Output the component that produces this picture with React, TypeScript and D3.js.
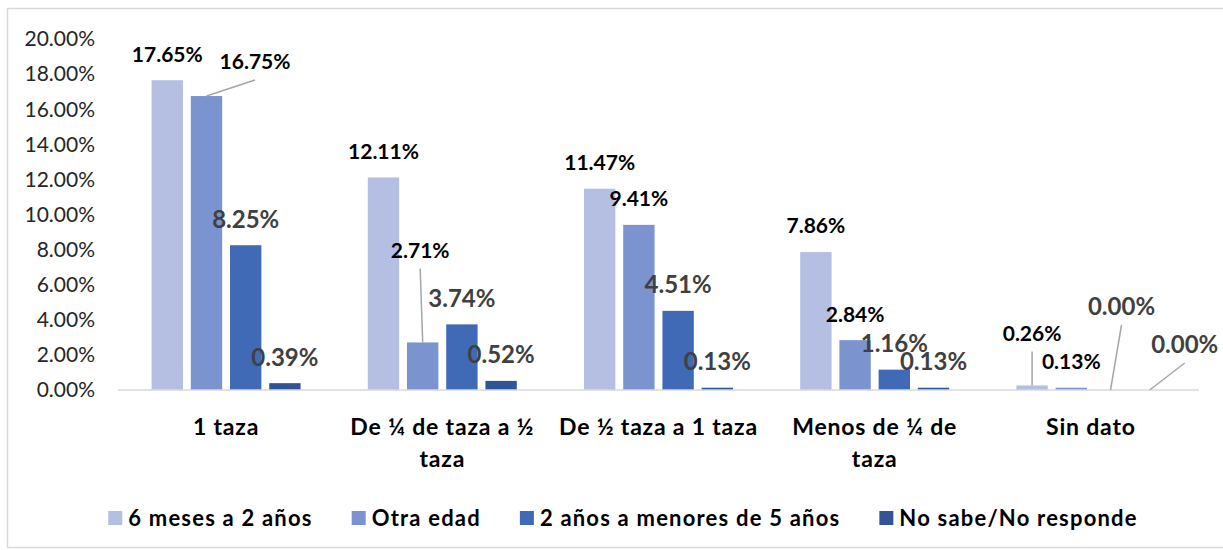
import React, { useRef, useEffect } from "react";
import * as d3 from "d3";

// categories (x axis) – each entry is the list of wrapped lines
const categories = ["1 taza", "De ¼ de taza a ½ taza", "De ½ taza a 1 taza", "Menos de ¼ de taza", "Sin dato"];
const categoryLines = [["1 taza"], ["De ¼ de taza a ½", "taza"], ["De ½ taza a 1 taza"], ["Menos de ¼ de", "taza"], ["Sin dato"]];

const seriesNames = ["6 meses a 2 años", "Otra edad", "2 años a menores de 5 años", "No sabe/No responde"];
const seisMeses = [0.1765, 0.1211, 0.1147, 0.0786, 0.0026];
const otraEdad = [0.1675, 0.0271, 0.0941, 0.0284, 0.0013];
const dosAnios = [0.0825, 0.0374, 0.0451, 0.0116, 0.0];
const noSabe = [0.0039, 0.0052, 0.0013, 0.0013, 0.0];
const seriesValues = [seisMeses, otraEdad, dosAnios, noSabe];

const yTicks = [0, 0.02, 0.04, 0.06, 0.08, 0.1, 0.12, 0.14, 0.16, 0.18, 0.2];

const colors = ["#b4bfe1", "#7b94d0", "#4069b6", "#2f5597"];

// labels moved off their default spot (series index, category index) -> offset in px, with leader line
const labelNudges = {
  "1-0": [48.5, -8],
  "1-1": [-2.5, -66],
  "0-4": [0, -26],
  "2-4": [11, -57],
  "3-4": [35, -19],
};

const W = 1223;
const H = 550;
const FONT = "Lato, 'Open Sans', sans-serif";

const App = () => {
  const svgRef = useRef(null);

  useEffect(() => {
    const svg = d3.select(svgRef.current);
    svg.selectAll("*").remove();

    const plot = { left: 118, right: 1199, top: 39, bottom: 390 };

    // outer frame
    svg
      .append("rect")
      .attr("x", 7.5)
      .attr("y", 8.5)
      .attr("width", 1240)
      .attr("height", 539)
      .attr("fill", "#fff")
      .attr("stroke", "#d9d9d9")
      .attr("stroke-width", 1.5);

    const x0 = d3.scaleBand().domain(categories).range([plot.left, plot.right]).padding(0);
    const x1 = d3
      .scaleBand()
      .domain(seriesNames)
      .range([0, x0.bandwidth()])
      .paddingInner(0.2)
      .paddingOuter(0.857);
    const y = d3.scaleLinear().domain([0, 0.2]).range([plot.bottom, plot.top]);

    // y tick labels (no axis line)
    svg
      .append("g")
      .selectAll("text")
      .data(yTicks)
      .enter()
      .append("text")
      .attr("x", 95)
      .attr("y", (d) => y(d))
      .attr("dy", "0.35em")
      .attr("text-anchor", "end")
      .attr("font-family", FONT)
      .attr("font-size", 21)
      .attr("fill", "#262626")
      .text((d) => d3.format(".2%")(d));

    // bars
    const flat = [];
    seriesValues.forEach((vals, si) =>
      vals.forEach((v, ci) => flat.push({ si, ci, v }))
    );

    const barX = (d) => x0(categories[d.ci]) + x1(seriesNames[d.si]);

    svg
      .append("g")
      .selectAll("rect")
      .data(flat)
      .enter()
      .append("rect")
      .attr("x", barX)
      .attr("y", (d) => y(d.v))
      .attr("width", x1.bandwidth())
      .attr("height", (d) => y(0) - y(d.v))
      .attr("fill", (d) => colors[d.si]);

    // baseline
    svg
      .append("line")
      .attr("x1", plot.left)
      .attr("x2", plot.right)
      .attr("y1", y(0))
      .attr("y2", y(0))
      .attr("stroke", "#d9d9d9")
      .attr("stroke-width", 1.5);

    // data labels
    const labelPos = (d) => {
      const cx = barX(d) + x1.bandwidth() / 2;
      const top = y(d.v);
      const n = labelNudges[`${d.si}-${d.ci}`];
      return { cx, top, lx: cx + (n ? n[0] : 0), ly: top - 26 + (n ? n[1] : 0), leader: !!n };
    };

    svg
      .append("g")
      .selectAll("line")
      .data(flat.filter((d) => labelPos(d).leader))
      .enter()
      .append("line")
      .attr("x1", (d) => labelPos(d).lx)
      .attr("y1", (d) => labelPos(d).ly + 18)
      .attr("x2", (d) => labelPos(d).cx)
      .attr("y2", (d) => labelPos(d).top)
      .attr("stroke", "#a6a6a6")
      .attr("stroke-width", 1.5);

    svg
      .append("g")
      .selectAll("text")
      .data(flat)
      .enter()
      .append("text")
      .attr("x", (d) => labelPos(d).lx)
      .attr("y", (d) => labelPos(d).ly)
      .attr("dy", "0.35em")
      .attr("text-anchor", "middle")
      .attr("font-family", FONT)
      .attr("font-weight", "bold")
      .attr("font-size", (d) => (d.si < 2 ? 21 : 24))
      .attr("fill", (d) => (d.si < 2 ? "#000" : "#404040"))
      .text((d) => d3.format(".2%")(d.v));

    // category labels
    const cat = svg
      .append("g")
      .selectAll("text")
      .data(categories)
      .enter()
      .append("text")
      .attr("x", (d) => x0(d) + x0.bandwidth() / 2)
      .attr("y", 435)
      .attr("text-anchor", "middle")
      .attr("font-family", FONT)
      .attr("font-weight", "bold")
      .attr("font-size", 23)
      .attr("letter-spacing", 0.8)
      .attr("fill", "#000");
    cat
      .selectAll("tspan")
      .data((d, i) => categoryLines[i])
      .enter()
      .append("tspan")
      .attr("x", function () {
        return d3.select(this.parentNode).attr("x");
      })
      .attr("dy", (d, i) => (i === 0 ? 0 : 32))
      .text((d) => d);

    // legend
    const legend = svg.append("g");
    const items = legend
      .selectAll("g")
      .data(seriesNames)
      .enter()
      .append("g");
    items
      .append("rect")
      .attr("width", 14)
      .attr("height", 14)
      .attr("y", 511)
      .attr("fill", (d, i) => colors[i]);
    items
      .append("text")
      .attr("x", 20)
      .attr("y", 526)
      .attr("font-family", FONT)
      .attr("font-weight", "bold")
      .attr("font-size", 22)
      .attr("letter-spacing", 1.2)
      .attr("fill", "#000")
      .text((d) => d);
    const widths = [];
    items.selectAll("text").each(function () {
      widths.push(20 + this.getComputedTextLength());
    });
    const gap = 39;
    const total = d3.sum(widths) + gap * (widths.length - 1);
    let cursor = 623 - total / 2;
    items.attr("transform", (d, i) => {
      const t = `translate(${cursor},0)`;
      cursor += widths[i] + gap;
      return t;
    });
  }, []);

  return (
    <svg
      ref={svgRef}
      width={W}
      height={H}
      style={{ position: "fixed", left: 0, top: 0, background: "#fff" }}
    />
  );
};

export default App;
